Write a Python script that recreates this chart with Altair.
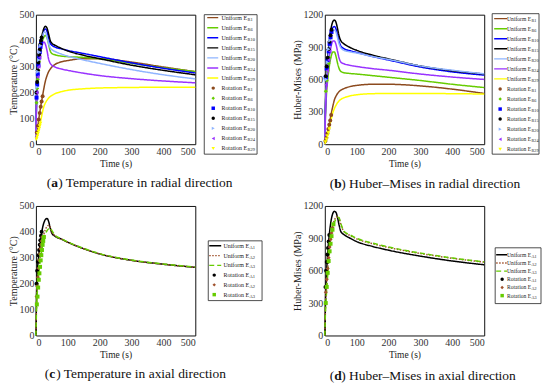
import altair as alt
import pandas as pd

FONT = "Liberation Serif"

# common time grid for the "Uniform" curves (s)
T = [0, 2, 5, 10, 15, 20, 25, 30, 35, 40, 45, 50, 60, 80, 100, 150, 200, 300, 400, 500]

# (a) Temperature, radial direction (deg C)
TR_R1 = [20, 35, 60, 105, 145, 180, 215, 245, 265, 280, 290, 298, 308, 318, 323, 330, 330, 317, 298, 280]
TR_R6 = [20, 160, 255, 320, 365, 395, 413, 420, 410, 385, 360, 350, 345, 340, 338, 335, 330, 312, 295, 280]
TR_R10 = [20, 175, 270, 340, 385, 415, 438, 445, 435, 410, 390, 382, 375, 368, 362, 350, 338, 314, 293, 275]
TR_R15 = [20, 180, 280, 350, 395, 425, 447, 455, 448, 425, 400, 390, 382, 370, 360, 343, 330, 305, 285, 268]
TR_R20 = [20, 170, 265, 335, 380, 410, 432, 432, 412, 388, 372, 365, 358, 348, 340, 325, 312, 288, 268, 252]
TR_R24 = [20, 155, 245, 310, 355, 383, 395, 385, 360, 328, 312, 305, 298, 290, 285, 274, 265, 253, 244, 237]
TR_R29 = [15, 22, 35, 60, 90, 120, 145, 160, 170, 178, 184, 188, 195, 203, 208, 214, 217, 219, 220, 220]

# (b) Huber-Mises, radial direction (MPa)
HR_R1 = [0, 25, 60, 130, 200, 280, 350, 410, 445, 470, 488, 500, 515, 535, 545, 555, 555, 540, 510, 470]
HR_R6 = [0, 250, 450, 620, 740, 815, 855, 855, 815, 750, 700, 675, 662, 655, 650, 635, 620, 590, 555, 525]
HR_R10 = [0, 330, 580, 800, 950, 1040, 1080, 1090, 1068, 1010, 950, 912, 885, 865, 850, 812, 780, 715, 670, 640]
HR_R15 = [0, 350, 600, 830, 980, 1080, 1135, 1150, 1130, 1070, 1000, 960, 930, 895, 870, 825, 790, 725, 680, 650]
HR_R20 = [0, 320, 560, 780, 930, 1015, 1050, 1058, 1038, 985, 928, 895, 870, 855, 845, 812, 785, 725, 685, 652]
HR_R24 = [0, 280, 500, 700, 830, 910, 955, 955, 925, 860, 795, 762, 745, 730, 720, 700, 685, 650, 622, 600]
HR_R29 = [0, 20, 50, 110, 170, 230, 290, 330, 360, 385, 402, 415, 430, 448, 458, 468, 470, 470, 468, 465]

# (c) Temperature, axial direction (deg C)
TA_A1 = [0, 150, 250, 320, 370, 410, 435, 448, 452, 440, 415, 395, 383, 372, 360, 335, 315, 290, 275, 263]
TA_A2 = [0, 120, 200, 270, 320, 360, 390, 410, 420, 425, 418, 400, 385, 372, 360, 335, 315, 290, 275, 263]
TA_A3 = [0, 100, 180, 250, 300, 340, 370, 392, 405, 412, 415, 405, 387, 373, 361, 336, 316, 291, 276, 264]

# (d) Huber-Mises, axial direction (MPa)
HA_A1 = [0, 300, 550, 800, 960, 1070, 1130, 1150, 1140, 1090, 1020, 965, 935, 900, 870, 825, 790, 735, 690, 655]
HA_A2 = [0, 250, 420, 650, 820, 940, 1020, 1070, 1095, 1105, 1085, 1030, 962, 925, 895, 850, 815, 760, 715, 680]
HA_A3 = [0, 220, 380, 600, 780, 900, 990, 1045, 1080, 1095, 1088, 1040, 966, 930, 900, 855, 820, 763, 718, 682]

# "Rotation" markers: times and values
ROT_TR_R1_T = [3, 6, 9, 12, 15, 18, 21]
ROT_TR_R1_V = [45, 70, 95, 120, 145, 165, 185]
ROT_TR_R6_T = [2, 4, 6, 8, 10, 12, 14]
ROT_TR_R6_V = [160, 215, 250, 285, 320, 340, 360]
ROT_TR_R10_T = [2, 4, 6, 8, 10, 12, 14, 16]
ROT_TR_R10_V = [180, 230, 270, 305, 335, 355, 375, 390]
ROT_TR_R15_T = [2, 4, 6, 8, 10, 12, 14, 16, 18]
ROT_TR_R15_V = [200, 240, 285, 315, 345, 365, 385, 400, 412]
ROT_TR_R20_T = [3, 6, 9, 12, 15]
ROT_TR_R20_V = [220, 280, 325, 355, 380]
ROT_TR_R24_T = [3, 6, 9, 12]
ROT_TR_R24_V = [200, 260, 300, 335]
ROT_TR_R29_T = [2, 4, 6, 8, 10, 12, 14]
ROT_TR_R29_V = [20, 30, 40, 50, 60, 70, 80]

ROT_HR_R1_T = [2, 5, 8, 11, 14, 17, 20]
ROT_HR_R1_V = [30, 60, 100, 140, 180, 220, 270]
ROT_HR_R6_T = [3, 6, 9, 12, 15]
ROT_HR_R6_V = [490, 590, 680, 750, 800]
ROT_HR_R10_T = [3, 6, 9, 12, 15, 18, 21]
ROT_HR_R10_V = [620, 700, 780, 860, 930, 990, 1040]
ROT_HR_R15_T = [3, 6, 9, 12, 15, 18, 21]
ROT_HR_R15_V = [630, 720, 800, 880, 950, 1010, 1060]
ROT_HR_R20_T = [4, 8, 12, 16]
ROT_HR_R20_V = [600, 760, 880, 960]
ROT_HR_R24_T = [4, 8, 12, 16]
ROT_HR_R24_V = [550, 680, 780, 860]
ROT_HR_R29_T = [2, 5, 8, 11, 14]
ROT_HR_R29_V = [20, 45, 75, 105, 140]

ROT_TA_A1_T = [2, 4, 6, 8, 10, 12, 14, 16, 18]
ROT_TA_A1_V = [200, 250, 285, 310, 330, 350, 368, 385, 400]
ROT_TA_A2_T = [2, 4, 6, 8, 10, 12, 14, 16, 18, 20]
ROT_TA_A2_V = [150, 190, 225, 260, 290, 315, 335, 350, 365, 380]
ROT_TA_A3_T = [3, 5, 7, 9, 11, 13, 15, 17, 19, 21, 23, 25]
ROT_TA_A3_V = [120, 150, 185, 215, 240, 265, 290, 310, 330, 350, 365, 380]

ROT_HA_A1_T = [2, 4, 6, 8, 10, 12, 14]
ROT_HA_A1_V = [450, 600, 680, 750, 810, 870, 930]
ROT_HA_A2_T = [3, 6, 9, 12, 15, 18, 21, 24]
ROT_HA_A2_V = [400, 520, 620, 720, 820, 890, 950, 1000]
ROT_HA_A3_T = [3, 6, 9, 12, 15, 18, 21, 24, 27]
ROT_HA_A3_V = [300, 450, 580, 690, 780, 850, 920, 980, 1030]

R_KEYS = ["R1", "R6", "R10", "R15", "R20", "R24", "R29"]
A_KEYS = ["A1", "A2", "A3"]

# styles
R_COLORS = ["#8c4a1e", "#66cc00", "#0000ff", "#000000", "#8fb4ff", "#9933ff", "#ffff00"]
R_SHAPES = ["circle", "diamond", "square", "circle", "triangle-right", "triangle-left", "triangle-down"]
R_DASHES = [[1, 0]] * 7
A_COLORS = ["#000000", "#a0522d", "#66cc00"]
A_SHAPES = ["circle", "diamond", "square"]
A_DASHES = [[1, 0], [1.5, 1.5], [5, 3]]


def long_df(keys, curves):
    rows = []
    for k, vals in zip(keys, curves):
        for t, v in zip(T, vals):
            rows.append({"key": k, "t": t, "v": v})
    return pd.DataFrame(rows)


def rot_df(keys, ts, vs):
    rows = []
    for k, tt, vv in zip(keys, ts, vs):
        for t, v in zip(tt, vv):
            rows.append({"key": k, "t": t, "v": v})
    return pd.DataFrame(rows)


def panel(keys, curves, rot_t, rot_v, colors, shapes, dashes, ymax, yticks, ytitle, leg, cap):
    color = alt.Color("key:N", scale=alt.Scale(domain=keys, range=colors), legend=None)
    shape = alt.Shape("key:N", scale=alt.Scale(domain=keys, range=shapes), legend=None)
    dash = alt.StrokeDash("key:N", scale=alt.Scale(domain=keys, range=dashes), legend=None)
    x = alt.X("t:Q", scale=alt.Scale(domain=[0, 500], nice=False),
              axis=alt.Axis(values=[0, 100, 200, 300, 400, 500], title="Time (s)", format="d",
                            titleFontSize=9.5, titlePadding=2, labelPadding=2))
    y = alt.Y("v:Q", scale=alt.Scale(domain=[0, ymax], nice=False),
              axis=alt.Axis(values=yticks, title=ytitle, titleFontSize=10, format="d",
                            titlePadding=0, labelPadding=2))

    lines = alt.Chart(long_df(keys, curves)).mark_line(
        strokeWidth=1.5, interpolate="monotone").encode(x=x, y=y, color=color, strokeDash=dash)
    pts = alt.Chart(rot_df(keys, rot_t, rot_v)).mark_point(
        filled=True, size=16, opacity=1).encode(x=x, y=y, color=color, shape=shape)

    # legend table
    n = len(keys)
    lrows = []
    for i, k in enumerate(keys):
        lrows.append({"key": k, "prefix": "Uniform E", "kind": "line", "i": i})
    for i, k in enumerate(keys):
        lrows.append({"key": k, "prefix": "Rotation E", "kind": "pt", "i": n + i})
    ldf = pd.DataFrame(lrows)
    ldf["py"] = leg["y0"] + ldf["i"] * leg["dy"]
    py = alt.Y("py:Q", scale=None, axis=None)

    box = alt.Chart(pd.DataFrame({"z": [0]})).mark_rect(
        fill="white", stroke="#222", strokeWidth=0.8).encode(
        x=alt.value(leg["bx"][0]), x2=alt.value(leg["bx"][1]),
        y=alt.value(leg["by"][0]), y2=alt.value(leg["by"][1]))
    lsample = alt.Chart(ldf[ldf.kind == "line"]).mark_rule(strokeWidth=1.4).encode(
        x=alt.value(leg["lx"][0]), x2=alt.value(leg["lx"][1]), y=py, color=color, strokeDash=dash)
    psample = alt.Chart(ldf[ldf.kind == "pt"]).mark_point(filled=True, size=12, opacity=1).encode(
        x=alt.value(leg["mx"]), y=py, color=color, shape=shape)
    ltext = alt.Chart(ldf).mark_text(align="right", baseline="middle", font=FONT,
                                     fontSize=leg["fs"], color="#222").encode(
        x=alt.value(leg["tx"]), y=py, text="prefix:N")
    lsub = alt.Chart(ldf).mark_text(align="left", baseline="middle", font=FONT,
                                    fontSize=leg["fs"] * 0.75, dy=2, color="#222").encode(
        x=alt.value(leg["tx"] + 0.5), y=py, text="key:N")

    one = pd.DataFrame({"z": [0]})
    cx, cy = cap["x"], cap["y"]
    c1 = alt.Chart(one).mark_text(text="(", align="right", baseline="middle", font=FONT,
                                  fontSize=13.5, color="#111").encode(x=alt.value(cx), y=alt.value(cy))
    c2 = alt.Chart(one).mark_text(text=cap["letter"], align="left", baseline="middle", font=FONT,
                                  fontSize=13.5, fontWeight="bold", color="#111").encode(
        x=alt.value(cx), y=alt.value(cy))
    c3 = alt.Chart(one).mark_text(text=") " + cap["text"], align="left", baseline="middle",
                                  font=FONT, fontSize=13.5, color="#111").encode(
        x=alt.value(cx + 6.9), y=alt.value(cy))

    return alt.layer(lines, pts, box, lsample, psample, ltext, lsub, c1, c2, c3).properties(
        width=160, height=130)


pa = panel(R_KEYS, [TR_R1, TR_R6, TR_R10, TR_R15, TR_R20, TR_R24, TR_R29],
           [ROT_TR_R1_T, ROT_TR_R6_T, ROT_TR_R10_T, ROT_TR_R15_T, ROT_TR_R20_T, ROT_TR_R24_T, ROT_TR_R29_T],
           [ROT_TR_R1_V, ROT_TR_R6_V, ROT_TR_R10_V, ROT_TR_R15_V, ROT_TR_R20_V, ROT_TR_R24_V, ROT_TR_R29_V],
           R_COLORS, R_SHAPES, R_DASHES, 500, [0, 100, 200, 300, 400, 500], "Temperature (°C)",
           dict(bx=(169, 222), by=(0, 140), y0=3, dy=10.1, lx=(172, 183), mx=178, tx=212, fs=6),
           dict(x=15.5, y=169, letter="a", text="Temperature in radial direction"))

pb = panel(R_KEYS, [HR_R1, HR_R6, HR_R10, HR_R15, HR_R20, HR_R24, HR_R29],
           [ROT_HR_R1_T, ROT_HR_R6_T, ROT_HR_R10_T, ROT_HR_R15_T, ROT_HR_R20_T, ROT_HR_R24_T, ROT_HR_R29_T],
           [ROT_HR_R1_V, ROT_HR_R6_V, ROT_HR_R10_V, ROT_HR_R15_V, ROT_HR_R20_V, ROT_HR_R24_V, ROT_HR_R29_V],
           R_COLORS, R_SHAPES, R_DASHES, 1200, [0, 300, 600, 900, 1200], "Huber-Mises (MPa)",
           dict(bx=(168, 215), by=(-1, 140), y0=4, dy=10.08, lx=(170, 183), mx=176, tx=207, fs=5.6),
           dict(x=9.5, y=170, letter="b", text="Huber–Mises in radial direction"))

pc = panel(A_KEYS, [TA_A1, TA_A2, TA_A3],
           [ROT_TA_A1_T, ROT_TA_A2_T, ROT_TA_A3_T],
           [ROT_TA_A1_V, ROT_TA_A2_V, ROT_TA_A3_V],
           A_COLORS, A_SHAPES, A_DASHES, 500, [0, 100, 200, 300, 400, 500], "Temperature (°C)",
           dict(bx=(173, 227), by=(35, 95), y0=40, dy=9.8, lx=(174, 186), mx=179, tx=214, fs=6),
           dict(x=13.5, y=169, letter="c", text="Temperature in axial direction"))

pd_ = panel(A_KEYS, [HA_A1, HA_A2, HA_A3],
            [ROT_HA_A1_T, ROT_HA_A2_T, ROT_HA_A3_T],
            [ROT_HA_A1_V, ROT_HA_A2_V, ROT_HA_A3_V],
            A_COLORS, A_SHAPES, A_DASHES, 1200, [0, 300, 600, 900, 1200], "Huber-Mises (MPa)",
            dict(bx=(171, 217), by=(42, 98), y0=49, dy=8.2, lx=(172, 183), mx=178, tx=207, fs=5.6),
            dict(x=9.5, y=171, letter="d", text="Huber–Mises in axial direction"))

chart = alt.concat(
    pa, pb, pc, pd_, columns=2,
    spacing=alt.RowColnumber(row=62, column=130), bounds="flush"
).resolve_scale(
    color="independent", shape="independent", strokeDash="independent",
    x="independent", y="independent"
).properties(
    padding=0, background="white"
).configure_view(stroke="#111", strokeWidth=1).configure_axis(
    labelFont=FONT, titleFont=FONT, labelFontSize=10, labelColor="#333",
    titleColor="#222", titleFontWeight="normal", grid=False, ticks=False, domain=False
)

chart.save("out.html", embed_options={"renderer": "svg", "actions": False})
